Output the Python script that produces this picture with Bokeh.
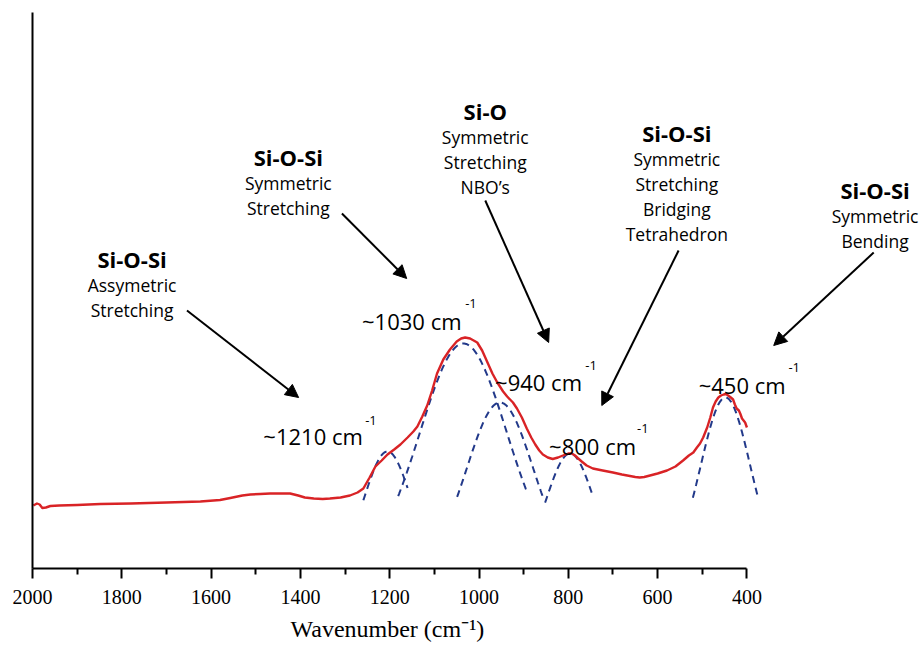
import numpy as np
from bokeh.plotting import figure
from bokeh.models import Range1d, FixedTicker, Label, Arrow, NormalHead, Title
from bokeh.embed import file_html
from bokeh.resources import INLINE

# ---- measured spectrum (wavenumber cm-1, absorbance a.u.) ----
wavenumber = [1998, 1990, 1984, 1978, 1970, 1960, 1940, 1900, 1848, 1780,
              1700, 1624, 1580, 1557, 1530, 1512, 1490, 1468, 1440, 1423,
              1405, 1390, 1370, 1350, 1334, 1310, 1289, 1272, 1259, 1245,
              1232, 1218, 1205, 1190, 1176, 1160, 1147, 1138, 1127, 1116,
              1105, 1094, 1080, 1065, 1050, 1040, 1031, 1020, 1004, 993,
              982, 970, 959, 946, 937, 924, 915, 904, 893, 883,
              874, 865, 857, 846, 835, 823, 812, 800, 792, 785,
              779, 770, 759, 745, 723, 700, 680, 662, 650, 640,
              630, 617, 600, 579, 560, 543, 530, 520, 512, 505,
              498, 489, 482, 476, 470, 464, 458, 452, 447, 442,
              436, 431, 427, 423, 418, 415, 411, 404, 400]
absorbance = [0.630, 0.650, 0.640, 0.605, 0.610, 0.625, 0.630, 0.635, 0.645, 0.650,
              0.660, 0.670, 0.685, 0.705, 0.730, 0.740, 0.745, 0.750, 0.750, 0.750,
              0.730, 0.710, 0.700, 0.695, 0.700, 0.710, 0.730, 0.760, 0.800, 0.910,
              1.020, 1.080, 1.140, 1.190, 1.240, 1.310, 1.370, 1.420, 1.520, 1.630,
              1.780, 1.950, 2.090, 2.190, 2.270, 2.300, 2.310, 2.300, 2.260, 2.180,
              2.070, 1.950, 1.860, 1.770, 1.720, 1.660, 1.600, 1.510, 1.400, 1.310,
              1.240, 1.180, 1.140, 1.110, 1.095, 1.110, 1.130, 1.150, 1.150, 1.130,
              1.105, 1.070, 1.030, 1.000, 0.980, 0.960, 0.940, 0.925, 0.915, 0.910,
              0.915, 0.930, 0.950, 0.980, 1.020, 1.080, 1.130, 1.160, 1.210, 1.250,
              1.310, 1.410, 1.510, 1.610, 1.670, 1.710, 1.730, 1.740, 1.745, 1.730,
              1.710, 1.690, 1.640, 1.600, 1.580, 1.550, 1.500, 1.460, 1.410]

# ---- fitted Gaussian components (centre, height, sigma, drawn from/to) ----
peak_center = [1205, 1035, 953, 796, 448]
peak_height = [1.17, 2.25, 1.66, 1.15, 1.71]
peak_sigma = [52, 97, 74, 53, 55]
peak_from = [1259, 1181, 1049, 852, 521]
peak_to = [1160, 893, 857, 745, 375]

# ---- peak labels ----
peak_text = ["~1210 cm", "~1030 cm", "~940 cm", "~800 cm", "~450 cm"]
peak_text_x = [1483, 1262, 964, 843, 508]
peak_text_y = [1.33, 2.48, 1.867, 1.23, 1.84]
peak_sup_x = [1255, 1031, 762, 646, 307]
peak_sup_y = [1.48, 2.647, 2.03, 1.40, 2.007]

# ---- assignment notes ----
note_title = ["Si-O-Si", "Si-O-Si", "Si-O", "Si-O-Si", "Si-O-Si"]
note_lines = [["Assymetric", "Stretching"],
              ["Symmetric", "Stretching"],
              ["Symmetric", "Stretching", "NBO\u2019s"],
              ["Symmetric", "Stretching", "Bridging", "Tetrahedron"],
              ["Symmetric", "Bending"]]
note_x = [1777, 1427, 986, 557, 113]
note_y = [3.097, 4.12, 4.573, 4.353, 3.787]
arrow_x0 = [1654, 1307, 986, 553, 116]
arrow_y0 = [2.58, 3.55, 3.68, 3.18, 3.16]
arrow_x1 = [1404, 1162, 844, 725, 340]
arrow_y1 = [1.71, 2.90, 2.26, 1.63, 2.23]

x_ticks = [2000, 1800, 1600, 1400, 1200, 1000, 800, 600, 400]
x_minor = [1900, 1700, 1500, 1300, 1100, 900, 700, 500]
x_title = "Wavenumber (cm\u207b\u00b9)"

RED = "#d92326"
BLUE = "#22398a"
SANS = "Open Sans"
SERIF = "Liberation Serif"

p = figure(width=921, height=653, output_backend="svg", toolbar_location=None,
           x_range=Range1d(2000, 9), y_range=Range1d(0, 5.68),
           min_border_left=32, min_border_right=0, min_border_top=0,
           min_border_bottom=85)
p.outline_line_color = None
p.grid.visible = False
p.background_fill_color = "white"
p.border_fill_color = "white"

xa = p.xaxis[0]
xa.ticker = FixedTicker(ticks=x_ticks, minor_ticks=x_minor)
xa.bounds = (400, 2000)
xa.axis_line_width = 2
xa.axis_line_color = "black"
xa.major_tick_line_width = 2
xa.minor_tick_line_width = 2
xa.major_tick_out = 10
xa.major_tick_in = 0
xa.minor_tick_out = 6
xa.minor_tick_in = 0
xa.major_label_text_font = SERIF
xa.major_label_text_font_size = "20px"
xa.major_label_text_color = "black"
xa.major_label_standoff = 11

# axis title placed under the tick labels, left-aligned to sit under the 2000-400 span
p.add_layout(Title(text=x_title, align="left", offset=258, text_font=SERIF,
                   text_font_size="24px", text_font_style="normal",
                   text_color="black", standoff=15), "below")

ya = p.yaxis[0]
ya.ticker = FixedTicker(ticks=[])
ya.bounds = (0, 5.56)
ya.axis_line_width = 2
ya.axis_line_color = "black"
ya.major_tick_line_color = None
ya.minor_tick_line_color = None
ya.major_label_text_font_size = "0px"

# Gaussian components
for c, h, s, a, b in zip(peak_center, peak_height, peak_sigma, peak_from, peak_to):
    xs = np.linspace(a, b, 120)
    ys = h * np.exp(-((xs - c) ** 2) / (2.0 * s ** 2))
    p.line(xs, ys, line_color=BLUE, line_width=2, line_dash="7 5")

# spectrum
p.line(wavenumber, absorbance, line_color=RED, line_width=2.4, line_join="round")

# peak labels
for t, x, y, sx, sy in zip(peak_text, peak_text_x, peak_text_y, peak_sup_x, peak_sup_y):
    p.add_layout(Label(x=x, y=y, text=t, text_font=SANS, text_font_size="22px",
                       text_align="left", text_baseline="alphabetic", text_color="black"))
    p.add_layout(Label(x=sx, y=sy, text="-1", text_font=SANS, text_font_size="13px",
                       text_align="left", text_baseline="alphabetic", text_color="black"))

# notes
for title, lines, x, y in zip(note_title, note_lines, note_x, note_y):
    p.add_layout(Label(x=x, y=y, text=title, text_font=SANS, text_font_size="22px",
                       text_font_style="bold", text_align="center",
                       text_baseline="alphabetic", text_color="black"))
    for i, ln in enumerate(lines):
        p.add_layout(Label(x=x, y=y - 0.26 - 0.25 * i, text=ln, text_font=SANS,
                           text_font_size="17.5px", text_align="center",
                           text_baseline="alphabetic", text_color="black"))

for x0, y0, x1, y1 in zip(arrow_x0, arrow_y0, arrow_x1, arrow_y1):
    p.add_layout(Arrow(x_start=x0, y_start=y0, x_end=x1, y_end=y1,
                       line_color="black", line_width=2,
                       end=NormalHead(size=13, fill_color="black", line_color="black")))

open("out.html", "w").write(file_html(p, INLINE))
